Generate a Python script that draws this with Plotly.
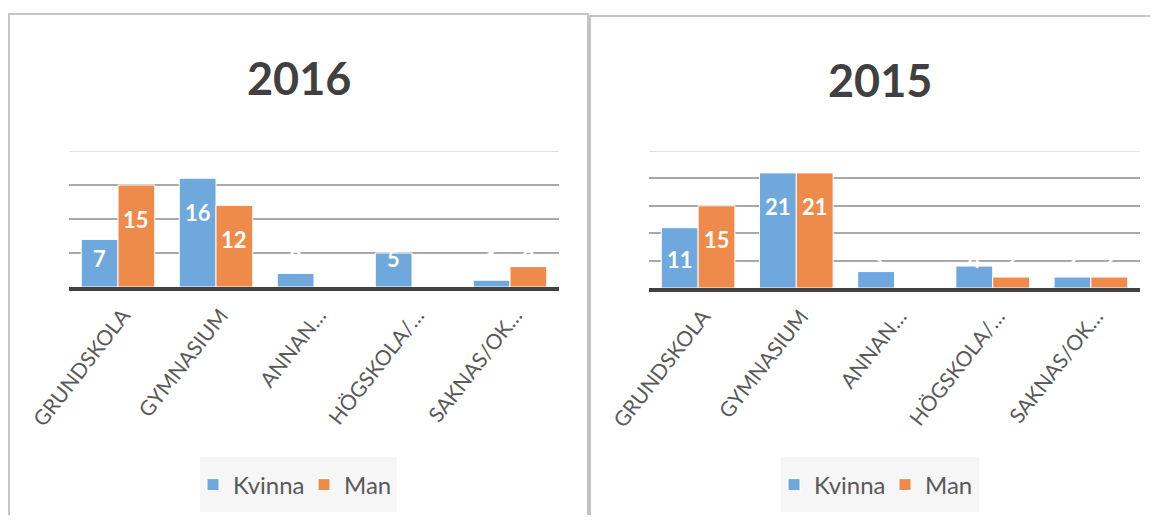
import plotly.graph_objects as go

# Data
categories = ["GRUNDSKOLA", "GYMNASIUM", "ANNAN…", "HÖGSKOLA/…", "SAKNAS/OK…"]
series_names = ["Kvinna", "Man"]
kvinna_2016 = [7, 16, 2, 5, 1]
man_2016 = [15, 12, 0, 0, 3]
kvinna_2015 = [11, 21, 3, 4, 2]
man_2015 = [15, 21, 0, 2, 2]
titles = ["2016", "2015"]
y_max = [20, 25]

# page has an 8px body margin, so the figure is a bit smaller than the window
OFF = 8
W, H = 1158 - OFF, 523 - 2 * OFF
BLUE = "#6fa8dc"
ORANGE = "#ee8a4a"
FONT = "Lato, 'Open Sans', sans-serif"
TXT = "#595959"

# plot areas in window pixels (left, right, top, bottom)
areas = [(69, 559, 151, 287), (649, 1140, 151, 288)]


def px_x(p):
    return (p - OFF) / W


def px_y(p):
    return 1 - (p - OFF) / H


fig = go.Figure()

panels = [
    (kvinna_2016, man_2016, "x", "y", "legend"),
    (kvinna_2015, man_2015, "x2", "y2", "legend2"),
]

annotations = []
for i, (kv, mn, xa, ya, lg) in enumerate(panels):
    for name, vals, col in [(series_names[0], kv, BLUE), (series_names[1], mn, ORANGE)]:
        fig.add_trace(go.Bar(
            x=categories, y=vals, name=name,
            marker=dict(color=col, line=dict(color="white", width=1)),
            xaxis=xa, yaxis=ya, legend=lg,
            hovertemplate="%{x}: %{y}<extra>" + name + "</extra>",
        ))

    # data labels: inside end, but never lower than ~30px above the base
    l, r, t, b = areas[i]
    ppu = (b - t) / y_max[i]
    step = (r - l) / len(categories)
    half_bar = step * 0.75 / 4
    for vals, shift in [(kv, -half_bar), (mn, half_bar)]:
        for c, v in zip(categories, vals):
            if not v:
                continue
            annotations.append(dict(
                x=c, y=max(v - 34 / ppu, 29 / ppu), xref=xa, yref=ya,
                xshift=shift, text=str(v), showarrow=False, yanchor="middle",
                font=dict(family=FONT, size=22, color="white", weight="bold"),
            ))

# titles
for cx, cy, t in [(299, 78, titles[0]), (880, 80, titles[1])]:
    annotations.append(dict(
        x=px_x(cx), y=px_y(cy), xref="paper", yref="paper", text=t,
        showarrow=False, xanchor="center", yanchor="middle",
        font=dict(family=FONT, size=45, color="#404040", weight="bold"),
    ))

shapes = [
    # panel frames
    dict(type="rect", xref="paper", yref="paper", x0=px_x(9), x1=px_x(588),
         y0=-0.1, y1=px_y(14), line=dict(color="#c4c4c4", width=2), layer="below"),
    dict(type="rect", xref="paper", yref="paper", x0=px_x(590), x1=1.1,
         y0=-0.1, y1=px_y(16), line=dict(color="#c4c4c4", width=2), layer="below"),
    # legend boxes
    dict(type="rect", xref="paper", yref="paper", x0=px_x(200), x1=px_x(397),
         y0=px_y(512), y1=px_y(457), fillcolor="#f6f6f6", line=dict(width=0), layer="below"),
    dict(type="rect", xref="paper", yref="paper", x0=px_x(781), x1=px_x(979),
         y0=px_y(512), y1=px_y(457), fillcolor="#f6f6f6", line=dict(width=0), layer="below"),
]
# lighter top gridline
for i, (xa, ya) in enumerate([("x", "y"), ("x2", "y2")]):
    shapes.append(dict(type="line", xref=xa + " domain", yref=ya, x0=0, x1=1,
                       y0=y_max[i], y1=y_max[i], line=dict(color="#e2e2e2", width=2),
                       layer="below"))

xaxis_common = dict(
    type="category", tickangle=-52, showgrid=False, automargin=False,
    showline=True, linecolor="#404040", linewidth=4,
    ticks="", tickfont=dict(family=FONT, size=21, color=TXT),
    ticklabelshift=5, ticklabelstandoff=4,
)
yaxis_common = dict(
    showticklabels=False, showgrid=True, gridcolor="#a9a9a9", gridwidth=2,
    zeroline=False, ticks="", dtick=5, automargin=False,
)

legend_common = dict(
    orientation="h", xanchor="left", y=px_y(485), yanchor="middle",
    bgcolor="rgba(0,0,0,0)", font=dict(family=FONT, size=24, color=TXT),
    itemwidth=30, entrywidth=66, entrywidthmode="pixels",
)

fig.update_layout(
    width=W, height=H,
    margin=dict(l=0, r=0, t=0, b=0, autoexpand=False),
    paper_bgcolor="white", plot_bgcolor="white",
    barmode="group", bargap=0.25, bargroupgap=0,
    xaxis=dict(domain=[px_x(areas[0][0]), px_x(areas[0][1])], anchor="y", **xaxis_common),
    yaxis=dict(domain=[px_y(areas[0][3]), px_y(areas[0][2])], anchor="x",
               range=[0, y_max[0]], **yaxis_common),
    xaxis2=dict(domain=[px_x(areas[1][0]), px_x(areas[1][1])], anchor="y2", **xaxis_common),
    yaxis2=dict(domain=[px_y(areas[1][3]), px_y(areas[1][2])], anchor="x2",
                range=[0, y_max[1]], **yaxis_common),
    legend=dict(x=px_x(193), **legend_common),
    legend2=dict(x=px_x(774), **legend_common),
    annotations=annotations,
    shapes=shapes,
    showlegend=True,
)

fig.write_html("out.html")
